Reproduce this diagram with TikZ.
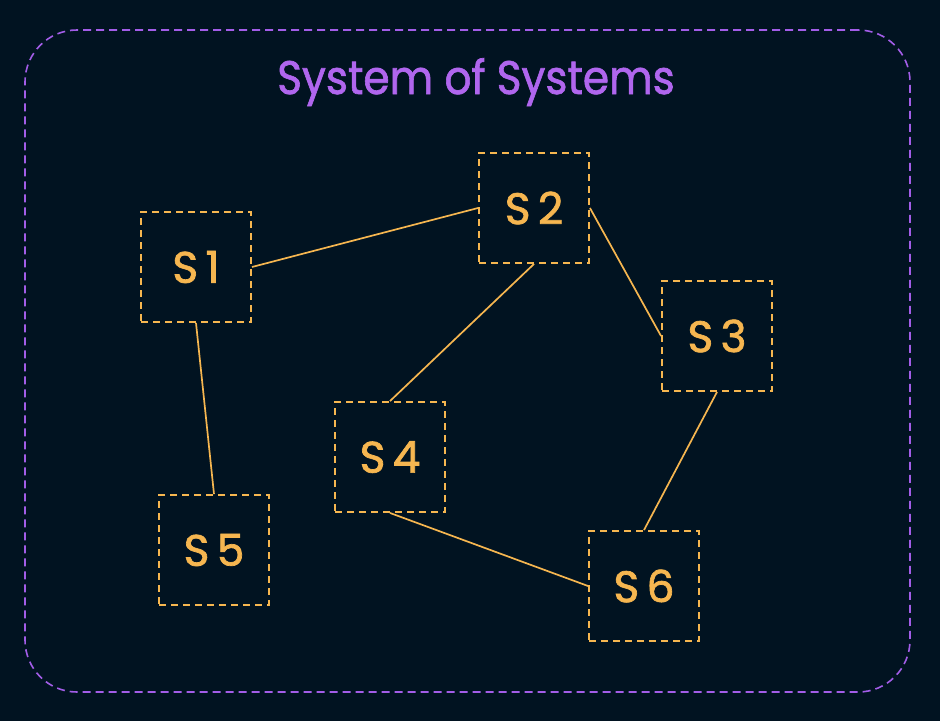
\documentclass[tikz,border=0pt]{standalone}
\usepackage{fontspec}
\setmainfont{Poppins}
\definecolor{bgc}{HTML}{011321}
\definecolor{purp}{HTML}{A35DE8}
\definecolor{titlec}{HTML}{B066EE}
\definecolor{orng}{HTML}{F6B650}
\tikzset{
  sysbox/.style={draw=orng, line width=1.9pt, dash pattern=on 7pt off 5pt, minimum width=110pt, minimum height=110pt, inner sep=0pt, text=orng, font=\fontsize{44}{44}\selectfont\addfontfeature{FakeBold=1.6}},
  link/.style={draw=orng, line width=1.7pt},
}
\begin{document}
\begin{tikzpicture}[x=1pt,y=-1pt]
\fill[bgc] (0,0) rectangle (940,721);
\useasboundingbox (0,0) rectangle (940,721);
\node[draw=purp, line width=1.6pt, dash pattern=on 8pt off 5pt, rounded corners=52pt, minimum width=885pt, minimum height=662pt, inner sep=0pt] (frame) at (467.5,361) {};
\node[text=titlec, font=\fontsize{47}{47}\selectfont\addfontfeature{FakeBold=1.4}, anchor=base, xscale=0.9] (title) at (476,94) {System of Systems};
\node[sysbox] (s1) at (196,267) {S\,1};
\node[sysbox] (s2) at (534,208) {S\,2};
\node[sysbox] (s3) at (717,336) {S\,3};
\node[sysbox] (s4) at (390,457) {S\,4};
\node[sysbox] (s5) at (214,550) {S\,5};
\node[sysbox] (s6) at (644,586) {S\,6};
\draw[link] (s1.east) -- (s2.west);
\draw[link] (s2.south) -- (s4.north);
\draw[link] (s2.east) -- (s3.west);
\draw[link] (s3.south) -- (s6.north);
\draw[link] (s4.south) -- (s6.west);
\draw[link] (s1.south) -- (s5.north);
\end{tikzpicture}
\end{document}
